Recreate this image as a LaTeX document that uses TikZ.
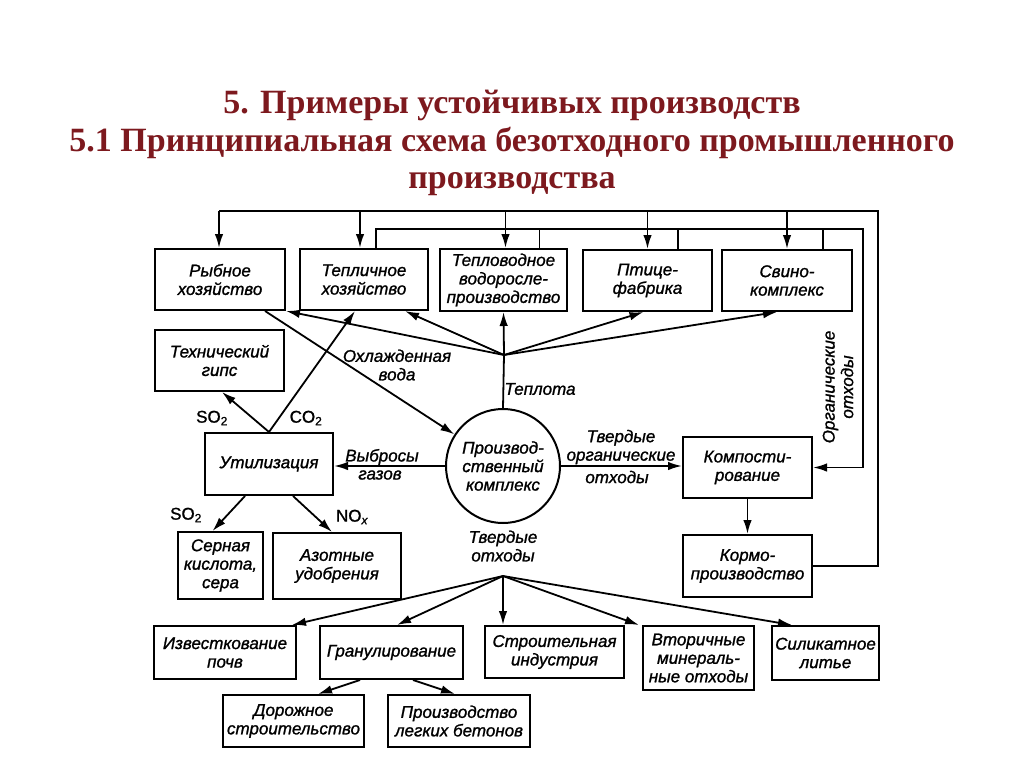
\documentclass[tikz,border=0pt]{standalone}
\usepackage{fontspec}
\setmainfont{Liberation Serif}
\newfontfamily\labf[FakeBold=1.2]{Liberation Sans}
\usetikzlibrary{arrows.meta}
\definecolor{ttlred}{RGB}{125,25,30}
\tikzset{
  lbl/.style={font=\labf\itshape\fontsize{17}{18.5}\selectfont, align=center, inner sep=0pt},
  chem/.style={font=\labf\fontsize{17}{18.5}\selectfont, inner sep=0pt},
  box/.style={lbl, draw, line width=2pt, rectangle},
  ttl/.style={font=\bfseries\fontsize{34}{36}\selectfont, text=ttlred, anchor=base},
  ln/.style={line width=1.8pt},
  arr/.style={line width=1.8pt, -{Latex[length=14pt,width=8.5pt]}},
}
\begin{document}
\begin{tikzpicture}[x=1pt,y=-1pt]
\fill[white] (0,0) rectangle (1024,768);
\useasboundingbox (0,0) rectangle (1024,768);

% title
\node[ttl] (t1) at (512,113) {5. Примеры устойчивых производств};
\node[ttl] (t2) at (512,151) {5.1 Принципиальная схема безотходного промышленного};
\node[ttl] (t3) at (512,188) {производства};

% boxes
\node[box, minimum width=130, minimum height=61] (ryb) at (220,279.5) {Рыбное\\хозяйство};
\node[box, minimum width=128, minimum height=61] (tep) at (364,279.5) {Тепличное\\хозяйство};
\node[box, minimum width=127, minimum height=62] (tvod) at (503.5,280) {Тепловодное\\водоросле-\\производство};
\node[box, minimum width=129, minimum height=61] (ptic) at (647.5,280.5) {Птице-\\фабрика};
\node[box, minimum width=130, minimum height=61] (svin) at (787,280.5) {Свино-\\комплекс};
\node[box, minimum width=129, minimum height=61] (gips) at (219.5,360.5) {Технический\\гипс};
\node[box, minimum width=128, minimum height=62] (util) at (269,464) {Утилизация};
\node[lbl, draw, circle, line width=2pt, minimum size=114] (circ) at (503,466) {Производ-\\ственный\\комплекс};
\node[box, minimum width=129, minimum height=61] (komp) at (747.5,467.5) {Компости-\\рование};
\node[box, minimum width=129, minimum height=62] (korm) at (747.5,566) {Кормо-\\производство};
\node[box, minimum width=85, minimum height=67] (sern) at (220.5,565.5) {Серная\\кислота,\\сера};
\node[box, minimum width=128, minimum height=66] (azot) at (337,566) {Азотные\\удобрения};
\node[box, minimum width=142, minimum height=53] (izv) at (225,652.5) {Известкование\\почв};
\node[box, minimum width=143, minimum height=53] (gran) at (391.5,652.5) {Гранулирование};
\node[box, minimum width=139, minimum height=52] (stroi) at (554.5,652) {Строительная\\индустрия};
\node[box, minimum width=111, minimum height=64] (vtor) at (698.5,658) {Вторичные\\минераль-\\ные отходы};
\node[box, minimum width=107, minimum height=54] (silik) at (825.5,653) {Силикатное\\литье};
\node[box, minimum width=141, minimum height=52] (dor) at (293.5,721) {Дорожное\\строительство};
\node[box, minimum width=142, minimum height=52] (prlb) at (459,721) {Производство\\легких бетонов};

% bus coordinates
\coordinate (busO) at (0,211);
\coordinate (busI) at (0,229);
\coordinate (xO) at (878,0);
\coordinate (xI) at (863,0);
\coordinate (J) at (504,355);
\coordinate (J2) at (503,576);

% outer feedback bus (Кормопроизводство -> all farms)
\draw[ln] (korm.east) -- (korm.east -| xO) -- (xO |- busO) -- ([xshift=-1]ryb.north |- busO);
\draw[arr] ([xshift=-1]ryb.north |- busO) -- ([xshift=-1]ryb.north);
\draw[arr] ([xshift=-4]tep.north |- busO) -- ([xshift=-4]tep.north);
\draw[arr] ([xshift=2]tvod.north |- busO) -- ([xshift=2]tvod.north);
\draw[arr] (ptic.north |- busO) -- (ptic.north);
\draw[arr] (svin.north |- busO) -- (svin.north);

% inner bus (organic wastes -> composting)
\draw[arr] ([xshift=12]tep.north) |- (xI |- busI) |- (komp.east);
\draw[ln] ([xshift=36]tvod.north) -- ([xshift=36]tvod.north |- busI);
\draw[ln] ([xshift=30.5]ptic.north) -- ([xshift=30.5]ptic.north |- busI);
\draw[ln] ([xshift=36]svin.north) -- ([xshift=36]svin.north |- busI);
\node[lbl, rotate=90] (org) at (838,387) {Органические\\отходы};

% heat fan
\draw[ln] (circ.north) -- (J);
\draw[arr] (J) -- (tvod.south);
\draw[arr] (J) -- (ryb.south east);
\draw[arr] (J) -- ([xshift=41]tep.south);
\draw[arr] (J) -- ([xshift=-4]ptic.south);
\draw[arr] (J) -- ([xshift=-10]svin.south);
\node[lbl] (heat) at (540,389) {Теплота};

% cooled water
\draw[arr] ([xshift=45]ryb.south) -- (circ);
\node[lbl] (cw) at (397,365) {Охлажденная\\вода};

% utilisation
\draw[arr] (util.north) -- ([xshift=-9]tep.south);
\draw[arr] (util.north) -- ([xshift=2.5]gips.south);
\node[chem] (co2) at (306,418) {CO\textsubscript{2}};
\node[chem] (so2a) at (212,418) {SO\textsubscript{2}};
\draw[arr] (circ.west) -- (util.east |- circ.west);
\node[lbl] (gas1) at (382,457) {Выбросы};
\node[lbl] (gas2) at (380,475) {газов};
\draw[arr] ([xshift=-24]util.south) -- ([xshift=-8]sern.north);
\draw[arr] ([xshift=24]util.south) -- ([xshift=-5]azot.north);
\node[chem] (so2b) at (186,515) {SO\textsubscript{2}};
\node[chem] (nox) at (352,517) {NO\textsubscript{\itshape x}};

% solid organic wastes
\draw[arr] (circ.east) -- (komp.west |- circ.east);
\node[lbl] (sow) at (621,447) {Твердые\\органические};
\node[lbl] (sow2) at (617,477) {отходы};
\draw[arr] (komp.south) -- (korm.north);

% solid wastes
\node[lbl] (sw) at (503,546) {Твердые\\отходы};
\draw[arr] (J2) -- ([xshift=67]izv.north);
\draw[arr] (J2) -- ([xshift=5.5]gran.north);
\draw[arr] (J2) -- (stroi.north -| J2);
\draw[arr] (J2) -- ([xshift=-3]vtor.north west);
\draw[arr] (J2) -- ([xshift=-33.5]silik.north);
\draw[arr] ([xshift=-31.5]gran.south) -- ([xshift=24.5]dor.north);
\draw[arr] ([xshift=21.5]gran.south) -- ([xshift=-4]prlb.north);
\end{tikzpicture}
\end{document}
